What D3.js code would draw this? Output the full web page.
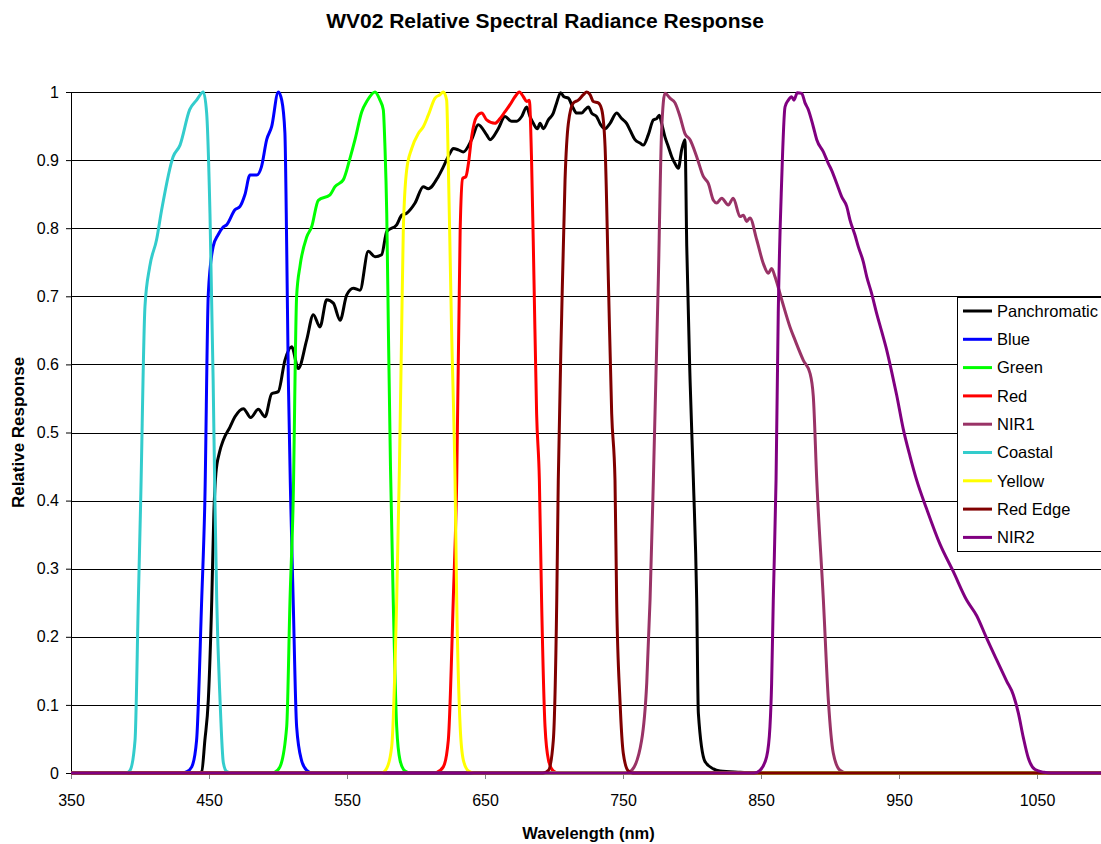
<!DOCTYPE html>
<html>
<head>
<meta charset="utf-8">
<script src="https://cdn.jsdelivr.net/npm/d3@7"></script>
<style>
    html, body { margin: 0; padding: 0; background: #fff; }
    svg { display: block; font-family: 'Liberation Sans', Arial, sans-serif; }
</style>
</head>
<body>
<svg id="chart" width="1101" height="844"></svg>
<script>
// wavelength (nm), relative response
const panchromatic = [
    [350, 0], [442, 0], [444.7, 0.002], [447, 0.048], [449.5, 0.107], [452, 0.254], [453.5, 0.38],
    [455, 0.44], [457.5, 0.47], [460.4, 0.489], [465.2, 0.508], [468.8, 0.523], [474.9, 0.535],
    [480.2, 0.522], [485.7, 0.534], [490.6, 0.523], [495.4, 0.557], [500.2, 0.56], [505, 0.606],
    [509.9, 0.626], [514.7, 0.594], [520.8, 0.636], [525.6, 0.673], [530.4, 0.655], [535.3, 0.695],
    [540.1, 0.69], [545, 0.665], [549.8, 0.702], [554.6, 0.712], [559.4, 0.709], [565.4, 0.766],
    [570.3, 0.758], [575.1, 0.761], [578.8, 0.795], [586, 0.805], [589.6, 0.819], [593.2, 0.822],
    [599.3, 0.837], [605.3, 0.861], [608.9, 0.858], [616.2, 0.876], [619.8, 0.89], [624.6, 0.91],
    [627, 0.917], [630.7, 0.915], [634.3, 0.912], [640.3, 0.93], [645.1, 0.952], [651.2, 0.937],
    [653.6, 0.93], [659.6, 0.946], [664.5, 0.964], [669.3, 0.957], [673, 0.957], [676.6, 0.964],
    [680.2, 0.978], [682.6, 0.964], [685, 0.954], [688, 0.946], [689.9, 0.954], [692.2, 0.946],
    [695.9, 0.959], [699.5, 0.969], [701.9, 0.984], [704.8, 0.999], [707.2, 0.993], [710.4, 0.991],
    [713.5, 0.978], [716.5, 0.969], [720, 0.969], [722.5, 0.974], [724.9, 0.978], [727.3, 0.969],
    [730.9, 0.964], [733.8, 0.952], [737, 0.946], [740.6, 0.954], [745.4, 0.969], [749, 0.961],
    [752.6, 0.954], [755.1, 0.944], [758.7, 0.93], [762.3, 0.925], [764.7, 0.922], [768.3, 0.937],
    [772, 0.959], [774.4, 0.961], [776.3, 0.966], [778, 0.954], [780.4, 0.934], [782.8, 0.92],
    [785.3, 0.905], [787.7, 0.895], [790.1, 0.888], [792.5, 0.915], [794.9, 0.93], [796.2, 0.773],
    [798.6, 0.577], [801, 0.43], [803.4, 0.254], [804.6, 0.088], [809.4, 0.017], [815.5, 0.006],
    [820.3, 0.003], [835, 0.001], [845, 0], [1100, 0]
];

const blue = [
    [350, 0], [430, 0], [434, 0.002], [437.5, 0.009], [441, 0.048], [444.7, 0.254], [447, 0.4],
    [449.5, 0.704], [453, 0.773], [456.5, 0.79], [460.4, 0.802], [462.8, 0.805], [468.8, 0.827],
    [472.5, 0.832], [476, 0.849], [479.7, 0.878], [484.6, 0.878], [488, 0.89], [491.8, 0.93],
    [495.4, 0.949], [500.2, 1], [502.7, 0.988], [505, 0.94], [506.3, 0.773], [507.5, 0.577],
    [509.2, 0.4], [511, 0.254], [513.5, 0.068], [517, 0.019], [520.8, 0.004], [525, 0], [1100, 0]
];

const green = [
    [350, 0], [495, 0], [497.5, 0.001], [501.4, 0.009], [506.3, 0.068], [508.7, 0.254], [511, 0.4],
    [513.5, 0.7], [516, 0.745], [520.8, 0.787], [524.4, 0.802], [529.2, 0.841], [537.7, 0.849],
    [541.3, 0.861], [547.3, 0.871], [552.2, 0.903], [555.8, 0.93], [560.7, 0.971], [564.3, 0.986],
    [570.3, 1], [573.9, 0.988], [576.3, 0.974], [577.5, 0.92], [578.8, 0.822], [580, 0.65],
    [581.5, 0.45], [583.5, 0.254], [586, 0.068], [588.4, 0.019], [592, 0.003], [596, 0], [1100, 0]
];

const red = [
    [350, 0], [612, 0], [615, 0.001], [619.8, 0.009], [623.4, 0.048], [627, 0.254], [629.5, 0.43],
    [632, 0.797], [633.8, 0.873], [636.2, 0.876], [638, 0.895], [640.3, 0.934], [644, 0.964],
    [647.6, 0.969], [651.2, 0.959], [657.2, 0.954], [660.9, 0.961], [664.5, 0.971], [668, 0.981],
    [671.7, 0.993], [674.9, 1], [677.8, 0.993], [680.2, 0.986], [682.1, 0.988], [683.8, 0.895],
    [685.5, 0.724], [687.4, 0.528], [689.4, 0.43], [691, 0.254], [693.5, 0.068], [696, 0.019],
    [699.5, 0.003], [703, 0], [1100, 0]
];

const nir1 = [
    [350, 0], [752, 0], [756.3, 0.004], [763.5, 0.048], [767.2, 0.132], [769.6, 0.254], [772, 0.43],
    [775.6, 0.724], [778, 0.944], [780.4, 0.998], [784, 0.991], [787.7, 0.984], [791.3, 0.964],
    [794.9, 0.939], [798.6, 0.93], [803.4, 0.905], [808.2, 0.876], [811.8, 0.866], [815.5, 0.841],
    [817.9, 0.837], [821.5, 0.844], [826.3, 0.834], [829.9, 0.844], [834.8, 0.817], [837.2, 0.819],
    [839.6, 0.81], [842, 0.815], [846.9, 0.783], [851.7, 0.748], [855.3, 0.734], [857.7, 0.741],
    [860.1, 0.729], [865, 0.695], [871, 0.655], [874.6, 0.636], [880.7, 0.606], [885.5, 0.587],
    [887.9, 0.553], [890.4, 0.43], [895.2, 0.254], [898.8, 0.107], [902.4, 0.029], [907.2, 0.004],
    [912, 0], [1100, 0]
];

const coastal = [
    [350, 0], [390, 0], [392.8, 0.004], [396.4, 0.048], [398.8, 0.254], [400.5, 0.4], [403.6, 0.685],
    [407, 0.743], [412, 0.783], [415.7, 0.827], [424, 0.905], [429, 0.922], [436, 0.974],
    [441, 0.988], [445.9, 1], [448.3, 0.969], [450.7, 0.822], [453, 0.577], [454.3, 0.4],
    [455.6, 0.254], [458, 0.107], [460.4, 0.015], [462.8, 0.002], [466, 0], [1100, 0]
];

const yellow = [
    [350, 0], [575, 0], [578.8, 0.007], [582.4, 0.039], [586, 0.254], [588, 0.45], [589.6, 0.65],
    [590.8, 0.797], [593.2, 0.885], [596.9, 0.917], [601.7, 0.939], [605.3, 0.949], [608.9, 0.966],
    [613.8, 0.991], [617.4, 0.996], [619.8, 1], [622.2, 0.988], [623.4, 0.895], [624.6, 0.773],
    [625.8, 0.65], [628.3, 0.43], [629.5, 0.254], [632, 0.068], [634.3, 0.019], [638, 0.003],
    [642, 0], [1100, 0]
];

const redEdge = [
    [350, 0], [692, 0], [696, 0.004], [699.5, 0.048], [702, 0.254], [703.1, 0.43], [705.6, 0.675],
    [708, 0.871], [710.4, 0.954], [714, 0.984], [717.6, 0.988], [721.3, 0.996], [723.7, 1],
    [726.1, 0.996], [728.5, 0.986], [732.1, 0.984], [734.6, 0.974], [737, 0.92], [739.4, 0.724],
    [741.8, 0.528], [744.2, 0.43], [745.4, 0.254], [747.8, 0.107], [750.2, 0.029], [753.8, 0.003],
    [757, 0], [1100, 0]
];

const nir2 = [
    [350, 0], [845, 0], [849.3, 0.004], [854.1, 0.024], [856.5, 0.068], [857.7, 0.132], [858.9, 0.254],
    [860.9, 0.43], [862.5, 0.675], [865, 0.871], [867.4, 0.978], [869.8, 0.988], [872.2, 0.993],
    [873.9, 0.988], [876.3, 0.999], [879.5, 0.998], [881.9, 0.984], [884.3, 0.974], [887.9, 0.949],
    [890.4, 0.93], [895.2, 0.912], [898.8, 0.895], [901.2, 0.885], [904.8, 0.866], [908.5, 0.846],
    [912.1, 0.832], [914.5, 0.812], [918.1, 0.79], [920.5, 0.773], [924.1, 0.751], [926.6, 0.729],
    [930.2, 0.704], [933.8, 0.675], [937.5, 0.648], [941.1, 0.621], [944.7, 0.589], [948.3, 0.555],
    [953.1, 0.505], [958, 0.465], [962.8, 0.43], [970, 0.388], [979.7, 0.336], [989.3, 0.296],
    [999, 0.254], [1006.3, 0.231], [1013.5, 0.198], [1020.8, 0.166], [1028, 0.135], [1032.8, 0.115],
    [1036.5, 0.088], [1040.1, 0.052], [1043.7, 0.022], [1048.6, 0.005], [1055, 0.001], [1060, 0],
    [1100, 0]
];

const bandNames = ['Panchromatic', 'Blue', 'Green', 'Red', 'NIR1', 'Coastal', 'Yellow', 'Red Edge', 'NIR2'];
const bandColors = ['#000000', '#0000ff', '#00ff00', '#ff0000', '#993366', '#33cccc', '#ffff00', '#800000', '#800080'];
const bandData = [panchromatic, blue, green, red, nir1, coastal, yellow, redEdge, nir2];

const xTicks = [350, 450, 550, 650, 750, 850, 950, 1050];
const yTicks = [0, 0.1, 0.2, 0.3, 0.4, 0.5, 0.6, 0.7, 0.8, 0.9, 1];

const params = {
    plot: { left: 71, right: 1106, top: 92, bottom: 773 },
    lineWidth: 3,
    fontSize: 16,
    legendFontSize: 16.5,
    legend: { x: 957, y: 297, width: 200, height: 254, rowHeight: 28.3 }
};

const svg = d3.select('#chart');
const { plot } = params;

const x = d3.scaleLinear().domain([350, 1100]).range([plot.left, plot.right]);
const y = d3.scaleLinear().domain([0, 1]).range([plot.bottom, plot.top]);

svg.append('rect')
    .attr('width', 1101)
    .attr('height', 844)
    .attr('fill', '#ffffff');

// horizontal gridlines
svg.append('g')
    .selectAll('line')
    .data(yTicks)
    .enter()
    .append('line')
    .attr('x1', plot.left)
    .attr('x2', plot.right)
    .attr('y1', d => Math.round(y(d)) + 0.5)
    .attr('y2', d => Math.round(y(d)) + 0.5)
    .attr('stroke', '#000000')
    .attr('stroke-width', 1);

const yAxis = svg.append('g')
    .attr('transform', `translate(${plot.left},0)`)
    .call(d3.axisLeft(y)
        .tickValues(yTicks)
        .tickSize(5)
        .tickSizeOuter(0)
        .tickPadding(7)
        .tickFormat(d3.format('~g')));

yAxis.selectAll('text')
    .attr('font-size', params.fontSize)
    .attr('font-family', null)
    .attr('fill', '#000000');
yAxis.selectAll('line, path').attr('stroke', '#000000');

const xAxis = svg.append('g')
    .attr('transform', `translate(0,${plot.bottom})`)
    .call(d3.axisBottom(x)
        .tickValues(xTicks)
        .tickSize(6)
        .tickPadding(16)
        .tickFormat(d3.format('d')));

xAxis.select('.domain').remove();
xAxis.selectAll('line').attr('stroke', '#808080');
xAxis.selectAll('text')
    .attr('font-size', params.fontSize)
    .attr('font-family', null)
    .attr('fill', '#000000');

const line = d3.line()
    .x(d => x(d[0]))
    .y(d => y(d[1]))
    .curve(d3.curveMonotoneX);

svg.append('g')
    .selectAll('path')
    .data(bandData)
    .enter()
    .append('path')
    .attr('d', line)
    .attr('fill', 'none')
    .attr('stroke', (d, i) => bandColors[i])
    .attr('stroke-width', params.lineWidth)
    .attr('stroke-linejoin', 'round');

// legend
const legend = svg.append('g')
    .attr('transform', `translate(${params.legend.x},${params.legend.y})`);

legend.append('rect')
    .attr('x', 0.5)
    .attr('y', 0.5)
    .attr('width', params.legend.width)
    .attr('height', params.legend.height)
    .attr('fill', '#ffffff')
    .attr('stroke', '#000000');

const items = legend.selectAll('g.item')
    .data(bandNames)
    .enter()
    .append('g')
    .attr('class', 'item')
    .attr('transform', (d, i) => `translate(0,${14 + i * params.legend.rowHeight})`);

items.append('line')
    .attr('x1', 6)
    .attr('x2', 35)
    .attr('stroke', (d, i) => bandColors[i])
    .attr('stroke-width', params.lineWidth);

items.append('text')
    .attr('x', 40)
    .attr('dy', '0.35em')
    .attr('font-size', params.legendFontSize)
    .text(d => d);

// titles
svg.append('text')
    .attr('x', 545)
    .attr('y', 28)
    .attr('text-anchor', 'middle')
    .attr('font-size', 21)
    .attr('font-weight', 'bold')
    .text('WV02 Relative Spectral Radiance Response');

svg.append('text')
    .attr('x', (plot.left + plot.right) / 2)
    .attr('y', 839)
    .attr('text-anchor', 'middle')
    .attr('font-size', 16.5)
    .attr('font-weight', 'bold')
    .text('Wavelength (nm)');

svg.append('text')
    .attr('transform', `translate(24,${(plot.top + plot.bottom) / 2}) rotate(-90)`)
    .attr('text-anchor', 'middle')
    .attr('font-size', 17)
    .attr('font-weight', 'bold')
    .text('Relative Response');
</script>
</body>
</html>
